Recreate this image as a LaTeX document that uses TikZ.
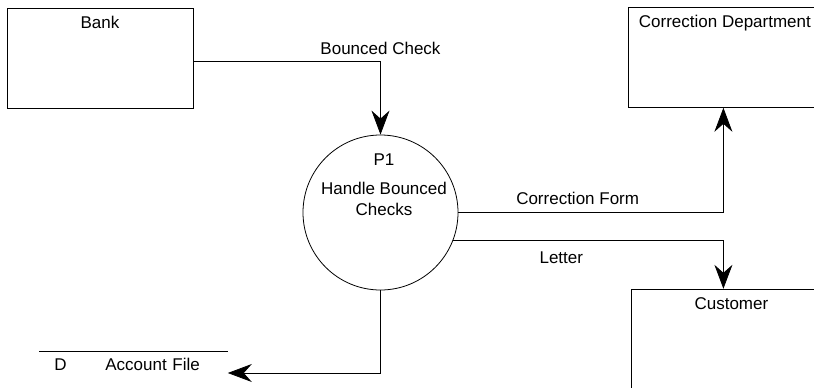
\documentclass[tikz,border=0pt]{standalone}
\usepackage{fontspec}
\setmainfont{Liberation Sans}
\usetikzlibrary{arrows.meta,positioning}

\begin{document}
\begin{tikzpicture}[
    x=1pt, y=-1pt,
    font=\fontsize{17}{21.5}\selectfont,
    line width=0.8pt,
    entity/.style={draw,inner sep=0pt,minimum height=100pt,
        label={[anchor=north,inner sep=0pt,yshift=-8pt]north:#1}},
    process/.style={circle,draw,inner sep=0pt,minimum size=155pt},
    store/.style={inner sep=0pt,text width=188pt,align=left,text height=18.7pt,text depth=2.3pt},
    flow/.style={-{Stealth[length=24pt,width=18pt,inset=8pt]}},
    lbl/.style={inner sep=0pt}
]
\useasboundingbox (0,0) rectangle (814,388);
\clip (0,0) rectangle (814,388);
\node[entity=Bank,minimum width=186pt] (bank) at (100,58) {};
\node[entity=Correction Department,minimum width=193pt,anchor=north west] (corr) at (628,7) {};
\node[entity=Customer,minimum width=200pt,minimum height=110pt,below=181pt of corr.south west,anchor=north west,xshift=3pt] (cust) {};
\node[process] (proc) at (380.5,212.5) {};
\node[lbl,align=center,below=18.8pt of proc.north,xshift=3.5pt] (ptext) {P1\\[7.5pt]Handle Bounced\\Checks};
\node[store,anchor=south west] (acct) at (39,373) {\makebox[66pt][l]{\hspace*{15pt}D}Account File};
\draw (acct.north west) -- (acct.north east);
% data flows
\draw[flow] ([yshift=-3pt]bank.east) -| node[lbl,pos=0.5,above=6pt] (bclabel) {Bounced Check} (proc);
\draw[flow] (proc.east) -| node[lbl,pos=0.225,above=7.5pt] (cflabel) {Correction Form} ([xshift=-1.5pt]corr.south);
\draw[flow] (proc.-21.6) -| node[lbl,pos=0.2,below=10.7pt] (ltlabel) {Letter} ([xshift=-1.5pt]corr.south |- cust.north);
\draw[flow] (proc.south) |- (acct.south east);
\end{tikzpicture}
\end{document}
